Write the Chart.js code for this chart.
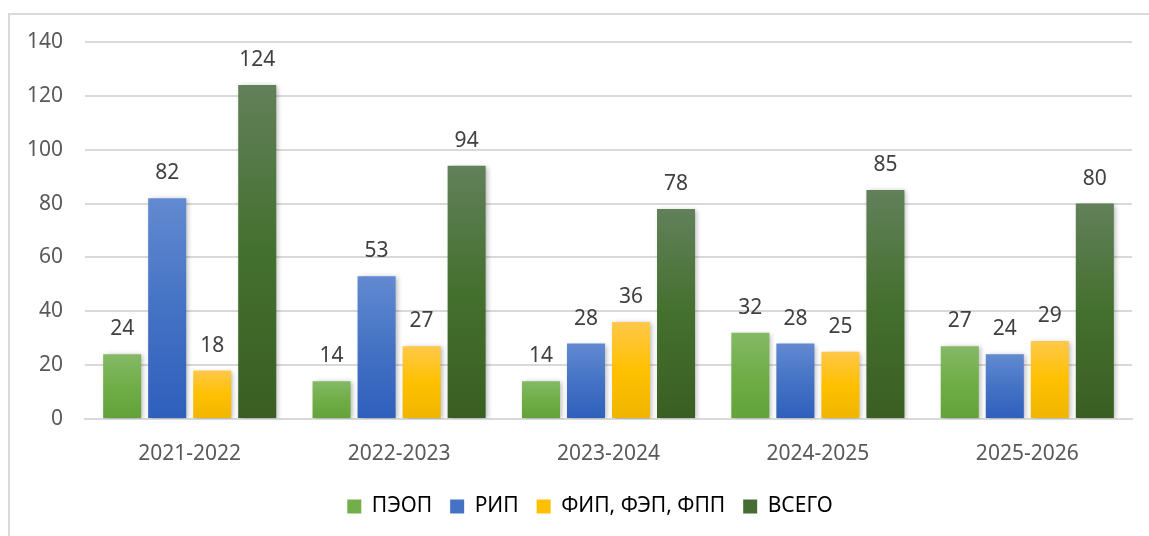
<!DOCTYPE html>
<html><head><meta charset="utf-8">
<script src="https://cdn.jsdelivr.net/npm/chart.js@4/dist/chart.umd.min.js"></script>
<style>
html,body{margin:0;padding:0;background:#fff;}
#frame{position:absolute;left:8px;top:13px;width:1160px;height:560px;border:2px solid #d9d9d9;box-sizing:border-box;}
#wrap{position:absolute;left:0;top:0;width:1149px;height:536px;}
</style></head>
<body>
<div id="frame"></div>
<div id="wrap"><canvas id="c" width="1149" height="536"></canvas></div>
<script>
const categories = ['2021-2022','2022-2023','2023-2024','2024-2025','2025-2026'];
const seriesNames = ['ПЭОП','РИП','ФИП, ФЭП, ФПП','ВСЕГО'];
const peop = [24,14,14,32,27];
const rip = [82,53,28,28,24];
const fip = [18,27,36,25,29];
const total = [124,94,78,85,80];
const yTicks = [0,20,40,60,80,100,120,140];

const palettes = [
  ['#84b966','#70ad47','#62a23a'],
  ['#628ad1','#4472c4','#2e5fbc'],
  ['#ffc84a','#ffc000','#efb500'],
  ['#62805a','#44702e','#3a5e22']
];
const legendColors = ['#72ae4a','#4472c4','#ffc000','#466b33'];

function grad(idx){
  return function(ctx){
    const chart = ctx.chart;
    const ca = chart.chartArea;
    if(!ca || ctx.raw === undefined) return palettes[idx][1];
    const ys = chart.scales.y;
    const top = ys.getPixelForValue(ctx.raw);
    const bot = ys.getPixelForValue(0);
    if(!isFinite(top) || bot-top < 1) return palettes[idx][1];
    const g = chart.ctx.createLinearGradient(0, top, 0, bot);
    g.addColorStop(0, palettes[idx][0]);
    g.addColorStop(0.5, palettes[idx][1]);
    g.addColorStop(1, palettes[idx][2]);
    return g;
  };
}

const values = [peop, rip, fip, total];
const datasets = seriesNames.map((n,i)=>({
  label:n, data:values[i], backgroundColor:grad(i), borderWidth:0,
  categoryPercentage:0.86, barPercentage:0.845
}));

const shadowPlugin = {
  id:'shadow',
  beforeDatasetsDraw(chart){
    const c = chart.ctx; c.save();
    c.shadowColor='rgba(0,0,0,0.28)'; c.shadowBlur=5; c.shadowOffsetX=2; c.shadowOffsetY=1;
  },
  afterDatasetsDraw(chart){ chart.ctx.restore(); }
};

const labelPlugin = {
  id:'vlabels',
  afterDatasetsDraw(chart){
    const c = chart.ctx; c.save();
    c.font = '21px "Noto Sans"'; c.fillStyle='#404040';
    c.textAlign='center'; c.textBaseline='middle';
    chart.data.datasets.forEach((ds,di)=>{
      const meta = chart.getDatasetMeta(di);
      meta.data.forEach((bar,j)=>{
        c.fillText(String(ds.data[j]), bar.x, bar.y-25);
      });
    });
    c.restore();
  }
};

const legendShift = {
  id:'legendShift',
  afterLayout(chart){
    const l = chart.legend;
    if(l){ l.left += 24; l.right += 24; }
  }
};

new Chart(document.getElementById('c'),{
  type:'bar',
  data:{labels:categories, datasets},
  plugins:[shadowPlugin,labelPlugin,legendShift],
  options:{
    responsive:false, animation:false,
    layout:{padding:{top:42,right:17,left:0,bottom:9}},
    plugins:{
      legend:{position:'bottom',
        labels:{boxWidth:14,boxHeight:14,padding:18,color:'#595959',font:{family:'"Noto Sans"',size:21},
          generateLabels(chart){
            return chart.data.datasets.map((d,i)=>({text:d.label,fillStyle:legendColors[i],strokeStyle:legendColors[i],lineWidth:0,datasetIndex:i,hidden:false}));
          }}},
      tooltip:{enabled:false}
    },
    scales:{
      x:{grid:{display:false},border:{display:true,color:'#d9d9d9',width:2},
        ticks:{color:'#595959',font:{family:'"Noto Sans"',size:21},padding:14},
        afterFit(s){s.height=59;}},
      y:{min:0,max:140,
        afterBuildTicks(s){s.ticks=yTicks.map(v=>({value:v}));},
        grid:{color:'#d9d9d9',lineWidth:2,drawTicks:false},border:{display:false},
        ticks:{color:'#595959',font:{family:'"Noto Sans"',size:21},padding:22},
        afterFit(s){s.width=85;}}
    }
  }
});
</script>
</body></html>
